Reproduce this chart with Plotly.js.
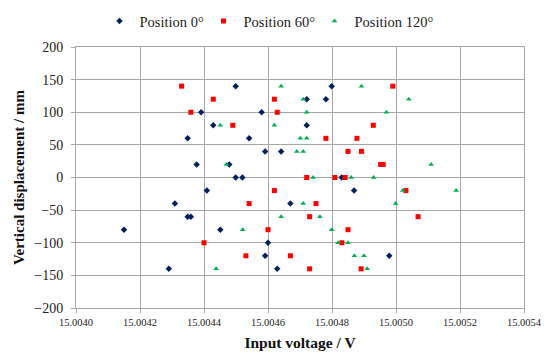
<!DOCTYPE html>
<html>
<head>
<meta charset="utf-8">
<script src="https://cdn.plot.ly/plotly-3.0.1.min.js"></script>
<style>html,body{margin:0;padding:0;background:#fff;}#chart{width:550px;height:360px;}</style>
</head>
<body>
<div id="chart"></div>
<script>
var seriesNames = ["Position 0°", "Position 60°", "Position 120°"];

var pos0X = [15.004391, 15.004429, 15.004349, 15.004377, 15.004479, 15.004409, 15.004309, 15.004349, 15.004359, 15.004150,
             15.004451, 15.004290, 15.004499, 15.004799, 15.004721, 15.004781, 15.004580, 15.004721, 15.004541, 15.004591,
             15.004641, 15.004499, 15.004520, 15.004830, 15.004869, 15.004670, 15.004600, 15.004591, 15.004979, 15.004629];
var pos0Y = [100, 80, 60, 20, 20, -20, -40, -60, -60, -80,
             -80, -140, 140, 140, 120, 120, 100, 80, 60, 40,
             40, 0, 0, 0, -20, -40, -100, -120, -120, -140];

var pos60X = [15.004330, 15.004429, 15.004359, 15.004400, 15.004620, 15.004629, 15.004490, 15.004929, 15.004781, 15.004878,
              15.004850, 15.004892, 15.004952, 15.004960, 15.004721, 15.004809, 15.004841, 15.004620, 15.004990, 15.005031,
              15.004541, 15.004750, 15.004730, 15.004600, 15.004850, 15.004831, 15.004531, 15.004670, 15.004730, 15.004891,
              15.005069];
var pos60Y = [140, 120, 100, -100, 120, 100, 80, 80, 60, 60,
              40, 40, 20, 20, 0, 0, 0, -20, 140, -20,
              -40, -40, -60, -80, -80, -100, -120, -120, -140, -140,
              -60];

var pos120X = [15.004451, 15.004470, 15.004438, 15.004641, 15.004892, 15.004710, 15.004721, 15.004970, 15.004620, 15.004701,
               15.004721, 15.004690, 15.004710, 15.004741, 15.004860, 15.004930, 15.005040, 15.005110, 15.005021, 15.005188,
               15.004710, 15.004641, 15.004762, 15.004521, 15.004799, 15.004819, 15.004850, 15.004870, 15.004900, 15.004910,
               15.004999];
var pos120Y = [80, 20, -140, 140, 140, 120, 100, 100, 80, 60,
               60, 40, 40, 0, 0, 0, 120, 20, -20, -20,
               -40, -60, -60, -80, -80, -100, -100, -120, -120, -140,
               -40];

var xTitle = "Input voltage / V";
var yTitle = "Vertical displacement / mm";

var serif = "Liberation Serif, Times New Roman, serif";
var gridColor = "#a6a6a6";

var traces = [
  {x: pos0X, y: pos0Y, name: seriesNames[0], type: "scatter", mode: "markers", legend: "legend",
   marker: {symbol: "diamond", size: 5, color: "#002060"}},
  {x: pos60X, y: pos60Y, name: seriesNames[1], type: "scatter", mode: "markers", legend: "legend2",
   marker: {symbol: "square", size: 5, color: "#ff0000"}},
  {x: pos120X, y: pos120Y, name: seriesNames[2], type: "scatter", mode: "markers", legend: "legend3",
   marker: {symbol: "triangle-up", size: 5, color: "#00b050"}}
];

function legendAt(xp) {
  return {orientation: "h", x: xp, xanchor: "left", y: 1.0996, yanchor: "middle",
          font: {family: serif, size: 14.5, color: "#222222"}, bgcolor: "rgba(0,0,0,0)"};
}

var layout = {
  width: 550, height: 360,
  margin: {l: 76, r: 26, t: 47, b: 52, autoexpand: false},
  paper_bgcolor: "#ffffff", plot_bgcolor: "#ffffff",
  font: {family: serif, color: "#222222"},
  showlegend: true,
  legend: legendAt(0.0525),
  legend2: legendAt(0.2846),
  legend3: legendAt(0.5324),
  xaxis: {
    range: [15.0040, 15.0054], tick0: 15.0040, dtick: 0.0002, tickformat: ".4f",
    showgrid: true, gridcolor: gridColor, gridwidth: 1,
    showline: true, linecolor: gridColor, linewidth: 1, mirror: true,
    ticks: "outside", ticklen: 4, tickcolor: gridColor,
    zeroline: false, automargin: false,
    tickfont: {family: serif, size: 10.5, color: "#222222"},
    title: {text: xTitle, font: {family: serif, size: 15.5, color: "#111111", weight: "bold"}, standoff: 10}
  },
  yaxis: {
    range: [-200, 200], dtick: 50,
    showgrid: true, gridcolor: gridColor, gridwidth: 1,
    showline: true, linecolor: gridColor, linewidth: 1, mirror: true,
    ticks: "outside", ticklen: 4, tickcolor: gridColor, ticklabelstandoff: 5,
    zeroline: false, automargin: false,
    tickfont: {family: serif, size: 14, color: "#222222"},
    title: {text: yTitle, font: {family: serif, size: 15, color: "#111111", weight: "bold"}, standoff: 6}
  }
};

Plotly.newPlot("chart", traces, layout, {displayModeBar: false, staticPlot: true});
</script>
</body>
</html>
